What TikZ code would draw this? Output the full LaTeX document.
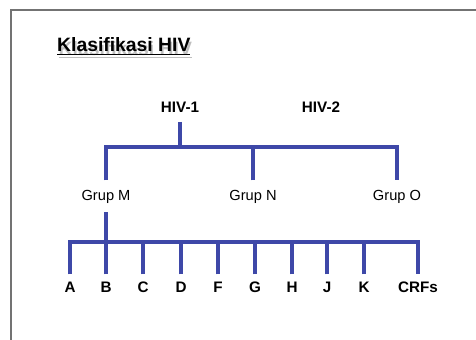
\documentclass[tikz,border=0pt]{standalone}
\usepackage{fontspec}
\setmainfont{Liberation Sans}
\usetikzlibrary{positioning}
\definecolor{hivblue}{RGB}{62,72,168}
\tikzstyle{branch} = [line width=3.2pt, draw=hivblue]
\tikzstyle{frame} = [line width=1.6pt, draw=black!55]
\begin{document}
\begin{tikzpicture}[x=0.03cm,y=-0.03cm]
			\useasboundingbox (0,0) rectangle (476,340);
			\draw[frame] (476,10) -| (11,340);
			% title
			\coordinate (T01) at (57,52);
			\coordinate (T02) at (58.5,55.5);
			% a
			\coordinate (H01) at (180,112);
			\coordinate (H02) at (321,112);
			% b
			\coordinate (G01) at (106,200);
			\coordinate (G02) at (253,200);
			\coordinate (G03) at (397,200);
			% c
			\coordinate (S01) at (70,292);
			\coordinate (S02) at (106,292);
			\coordinate (S03) at (143,292);
			\coordinate (S04) at (181,292);
			\coordinate (S05) at (218,292);
			\coordinate (S06) at (255,292);
			\coordinate (S07) at (292,292);
			\coordinate (S08) at (327,292);
			\coordinate (S09) at (364,292);
			\coordinate (S10) at (418,292);
			% junctions
			\coordinate (J01) at (180,147);
			\coordinate (J02) at (106,242);
			\begin{scope}[every node/.style={anchor=base west, inner sep=0pt, font=\fontsize{16.5}{18}\selectfont\bfseries}]
			\node[name=T02, text=black!25] at (T02) {\underline{Klasifikasi HIV}};
			\node[name=T01] at (T01) {\underline{Klasifikasi HIV}};
			\end{scope}
			\begin{scope}[every node/.style={anchor=base, inner sep=3pt, outer sep=5.5pt, font=\fontsize{13}{15}\selectfont\bfseries}]
			\node[name=H01] at (H01) {HIV-1};
			\node[name=H02] at (H02) {HIV-2};
			\end{scope}
			\begin{scope}[every node/.style={anchor=base, inner sep=3pt, outer sep=5pt, font=\fontsize{12.5}{15}\selectfont}]
			\node[name=G01] at (G01) {Grup M};
			\node[name=G02] at (G02) {Grup N};
			\node[name=G03] at (G03) {Grup O};
			\end{scope}
			\begin{scope}[every node/.style={anchor=base, inner sep=3pt, outer sep=3pt, font=\fontsize{13}{15}\selectfont\bfseries}]
			\node[name=S01] at (S01) {A};
			\node[name=S02] at (S02) {B};
			\node[name=S03] at (S03) {C};
			\node[name=S04] at (S04) {D};
			\node[name=S05] at (S05) {F};
			\node[name=S06] at (S06) {G};
			\node[name=S07] at (S07) {H};
			\node[name=S08] at (S08) {J};
			\node[name=S09] at (S09) {K};
			\node[name=S10] at (S10) {CRFs};
			\end{scope}
			\draw[branch] (H01.south) -- (J01);
			\draw[branch] (G01.north) |- (J01) -| (G03.north);
			\draw[branch] (G02.north) -- (G02.north |- J01);
			\draw[branch] (G01.south) -- (J02);
			\draw[branch] (S01.north) |- (J02) -| (S10.north);
			\foreach \s in {S02,S03,S04,S05,S06,S07,S08,S09}
			\draw[branch] (\s.north) -- (\s.north |- J02);
\end{tikzpicture}
\end{document}
